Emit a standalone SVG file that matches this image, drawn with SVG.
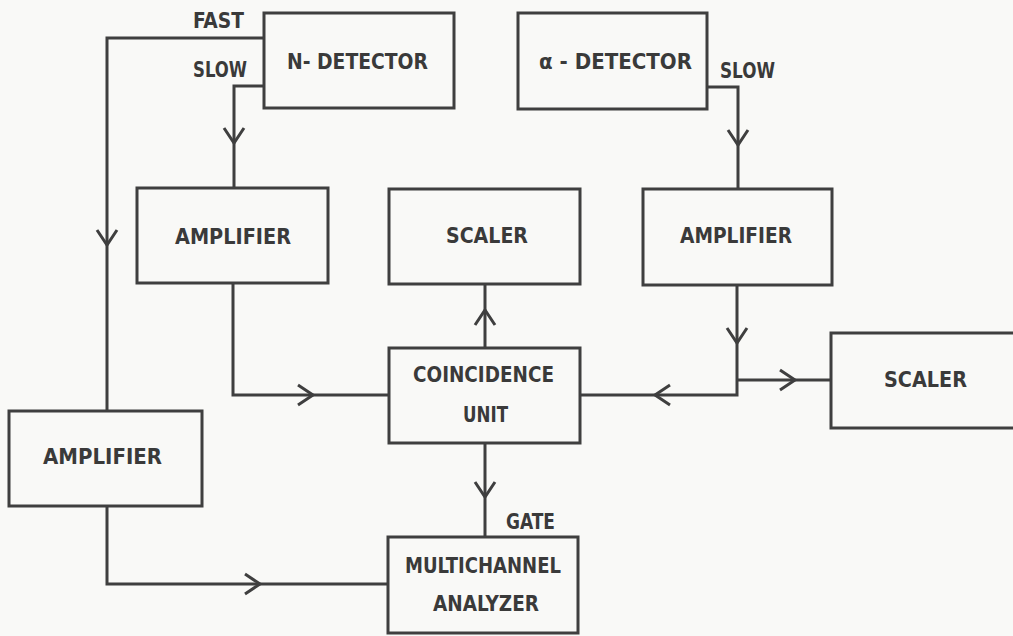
<svg xmlns="http://www.w3.org/2000/svg" width="1013" height="636" viewBox="0 0 1013 636">
  <style>
    .box { fill: none; stroke: #3f3f3f; stroke-width: 3; }
    .wire { fill: none; stroke: #3f3f3f; stroke-width: 3; stroke-linejoin: miter; }
    .lbl { font-family: "DejaVu Sans Condensed", "DejaVu Sans", sans-serif; font-weight: bold; font-size: 20.5px; fill: #3a3a3a; }
  </style>
  <defs>
    <path id="chev" d="M-15,-10 L0,0 L-15,10" fill="none" stroke="#3f3f3f" stroke-width="3"/>
  </defs>
  <rect x="0" y="0" width="1013" height="636" fill="#f9f9f7"/>

  <g id="connectors">
    <polyline class="wire" points="264,38 107,38 107,411"/>
    <use href="#chev" transform="translate(107,245) rotate(90)"/>
    <polyline class="wire" points="264,86 234,86 234,188"/>
    <use href="#chev" transform="translate(234,143) rotate(90)"/>
    <polyline class="wire" points="707,87 738,87 738,189"/>
    <use href="#chev" transform="translate(738,145) rotate(90)"/>
    <polyline class="wire" points="233,283 233,395 389,395"/>
    <use href="#chev" transform="translate(313,395)"/>
    <polyline class="wire" points="485,348 485,284"/>
    <use href="#chev" transform="translate(485,310) rotate(-90)"/>
    <polyline class="wire" points="737,285 737,395 580,395"/>
    <use href="#chev" transform="translate(737,343) rotate(90)"/>
    <use href="#chev" transform="translate(655,395) rotate(180)"/>
    <polyline class="wire" points="737,380 831,380"/>
    <use href="#chev" transform="translate(795,380)"/>
    <polyline class="wire" points="485,443 485,537"/>
    <use href="#chev" transform="translate(485,497) rotate(90)"/>
    <polyline class="wire" points="107,506 107,584 388,584"/>
    <use href="#chev" transform="translate(260,584)"/>
    <text class="lbl" x="193" y="28" textLength="51" lengthAdjust="spacingAndGlyphs">FAST</text>
    <text class="lbl" x="193" y="77" textLength="54" lengthAdjust="spacingAndGlyphs">SLOW</text>
    <text class="lbl" x="720" y="78" textLength="55" lengthAdjust="spacingAndGlyphs">SLOW</text>
    <text class="lbl" x="506" y="529" textLength="49" lengthAdjust="spacingAndGlyphs">GATE</text>
  </g>

  <g id="n-detector">
    <rect class="box" x="264" y="13" width="190" height="95"/>
    <text class="lbl" x="287" y="69" textLength="141" lengthAdjust="spacingAndGlyphs">N- DETECTOR</text>
  </g>
  <g id="alpha-detector">
    <rect class="box" x="518" y="13" width="189" height="96"/>
    <text class="lbl" x="539" y="69" textLength="153" lengthAdjust="spacingAndGlyphs">α - DETECTOR</text>
  </g>
  <g id="amplifier-n">
    <rect class="box" x="137" y="188" width="191" height="95"/>
    <text class="lbl" x="175" y="244" textLength="116" lengthAdjust="spacingAndGlyphs">AMPLIFIER</text>
  </g>
  <g id="scaler-coinc">
    <rect class="box" x="389" y="189" width="191" height="95"/>
    <text class="lbl" x="446" y="243" textLength="82" lengthAdjust="spacingAndGlyphs">SCALER</text>
  </g>
  <g id="amplifier-alpha">
    <rect class="box" x="643" y="189" width="189" height="96"/>
    <text class="lbl" x="680" y="243" textLength="112" lengthAdjust="spacingAndGlyphs">AMPLIFIER</text>
  </g>
  <g id="coincidence-unit">
    <rect class="box" x="389" y="348" width="191" height="95"/>
    <text class="lbl" x="413" y="382" textLength="141" lengthAdjust="spacingAndGlyphs">COINCIDENCE</text>
    <text class="lbl" x="463" y="422" textLength="45" lengthAdjust="spacingAndGlyphs">UNIT</text>
  </g>
  <g id="scaler-alpha">
    <rect class="box" x="831" y="333" width="200" height="95"/>
    <text class="lbl" x="884" y="387" textLength="83" lengthAdjust="spacingAndGlyphs">SCALER</text>
  </g>
  <g id="amplifier-fast">
    <rect class="box" x="9" y="411" width="193" height="95"/>
    <text class="lbl" x="43" y="464" textLength="119" lengthAdjust="spacingAndGlyphs">AMPLIFIER</text>
  </g>
  <g id="multichannel-analyzer">
    <rect class="box" x="388" y="537" width="190" height="96"/>
    <text class="lbl" x="405" y="573" textLength="156" lengthAdjust="spacingAndGlyphs">MULTICHANNEL</text>
    <text class="lbl" x="433" y="611" textLength="106" lengthAdjust="spacingAndGlyphs">ANALYZER</text>
  </g>
</svg>
